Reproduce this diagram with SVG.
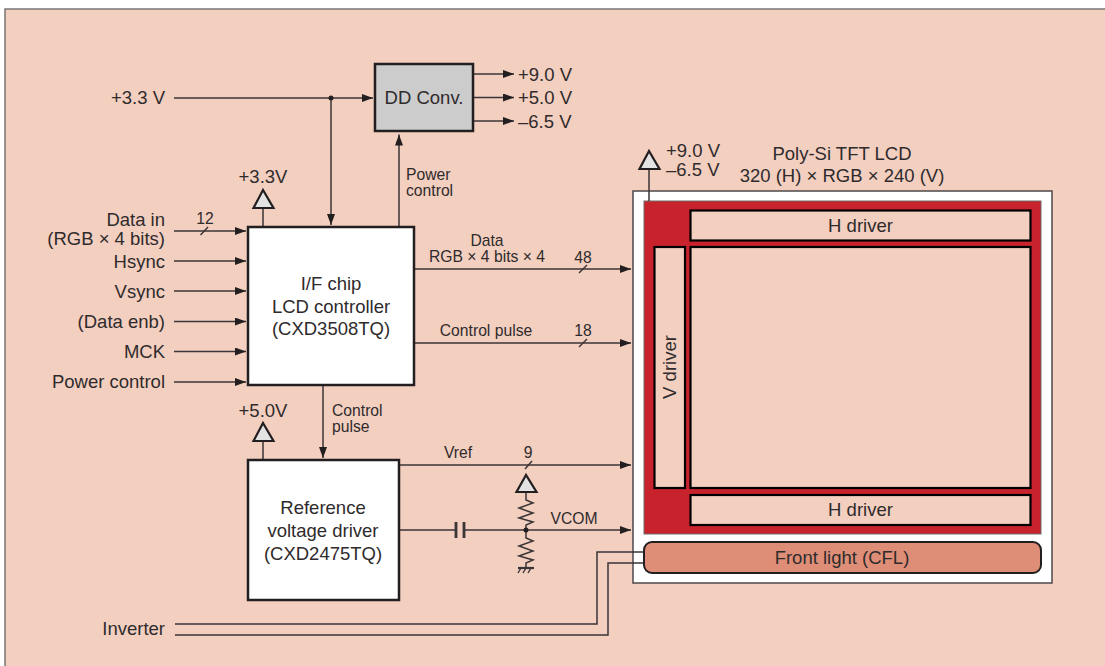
<svg xmlns="http://www.w3.org/2000/svg" width="1105" height="666" viewBox="0 0 1105 666">
<style>
text{font-family:"Liberation Sans",Arial,sans-serif;fill:#2f2b2c;font-size:18.5px}
.s{font-size:15.7px}
.m{text-anchor:middle}
.e{text-anchor:end}
.b{stroke:#231f20;stroke-width:2.5}
.w{fill:#fff}
.l{fill:none;stroke:#3a3536;stroke-width:1.5}
.t{fill:#e3e3e3;stroke:#231f20;stroke-width:2.2}
.a{marker-end:url(#ah)}
.h{fill:#f3cfc0;stroke:#000;stroke-width:2.2}
</style>
<defs>
<marker id="ah" markerUnits="userSpaceOnUse" markerWidth="12" markerHeight="8" refX="11" refY="4" orient="auto"><path d="M0 0L11 4L0 8z" fill="#231f20"/></marker>
</defs>
<rect x="0" y="0" width="1105" height="666" fill="#fff"/>
<rect x="5" y="9" width="1102" height="660" fill="#f3cfc0" stroke="#7a7676" stroke-width="1.5"/>
<g id="lcd-panel">
<rect x="633" y="191" width="419" height="392" fill="#fff" stroke="#4d4849" stroke-width="1.500"/>
<rect x="644" y="201" width="397" height="333" fill="#c8232c" stroke="#6e6a6a" stroke-width="1"/>
<text class="m" x="842" y="160">Poly-Si TFT LCD</text>
<text class="m" x="842" y="182">320 (H) × RGB × 240 (V)</text>
</g>
<g id="connectors">
<path class="l a" d="M174 98H373"/>
<path class="l a" d="M331 98V225"/>
<path class="l a" d="M399 227V134.500"/>
<path class="l a" d="M174 231H246"/><path class="l" d="M200.500 235L208 227"/>
<path class="l a" d="M174 261H246"/>
<path class="l a" d="M174 291H246"/>
<path class="l a" d="M174 321.500H246"/>
<path class="l a" d="M174 351.500H246"/>
<path class="l a" d="M174 382H246"/>
<path class="l a" d="M473 74H514"/>
<path class="l a" d="M473 97.500H514"/>
<path class="l a" d="M473 121H514"/>
<path class="l a" d="M414 269H631"/><path class="l" d="M579 273L587 265"/>
<path class="l a" d="M414 343H631"/><path class="l" d="M579 347L587 339"/>
<path class="l a" d="M323 385V458"/>
<path class="l" d="M263 208V227M263 441V460M649 169V201"/>
<path class="l a" d="M399 465H631"/><path class="l" d="M525 469L532 461"/>
<path class="l" d="M399 530H456M464 530H526"/>
<path class="l a" d="M526 530H631"/>
<path class="l" d="M456 522V538M464 522V538" style="stroke-width:2.800"/>
<path class="l" d="M526 492V500L533 503L519 508L533 513L519 518L533 522L526 525V530V538L533 541L519 546L533 551L519 556L533 560L526 563V568"/>
<path class="l" d="M518 568H534" style="stroke-width:2.200"/>
<path class="l" d="M521 568L518 573M526 568L523 573M531 568L528 573" style="stroke-width:1.400"/>
<circle cx="331" cy="98" r="2.500" fill="#231f20"/>
<circle cx="526" cy="530" r="2.500" fill="#231f20"/>
<path class="l" d="M175 624H597V552H644"/>
<path class="l" d="M175 635H608V563H644"/>
</g>
<g id="h-driver-top"><rect class="h" x="690.500" y="210.500" width="340" height="30"/><text class="m" x="860.500" y="232">H driver</text></g>
<g id="lcd-screen"><rect class="h" x="690.500" y="247" width="340" height="241"/></g>
<g id="v-driver"><rect class="h" x="654.500" y="247" width="30.500" height="241"/><text class="m" transform="translate(676 367) rotate(-90)">V driver</text></g>
<g id="h-driver-bottom"><rect class="h" x="690.500" y="495" width="340" height="30"/><text class="m" x="860.500" y="516">H driver</text></g>
<g id="front-light"><rect x="644" y="542" width="397" height="31" rx="8" fill="#de8e77" stroke="#231f20" stroke-width="2"/><text class="m" x="842" y="564">Front light (CFL)</text></g>
<g id="dd-conv"><rect class="b" x="375" y="64" width="98" height="67" fill="#cccccc"/><text class="m" x="424" y="104">DD Conv.</text></g>
<g id="if-chip"><rect class="b w" x="248" y="227" width="166" height="158"/><text class="m" x="331" y="290">I/F chip</text><text class="m" x="331" y="313">LCD controller</text><text class="m" x="331" y="335">(CXD3508TQ)</text></g>
<g id="ref-driver"><rect class="b w" x="248" y="460" width="151" height="140"/><text class="m" x="323" y="514">Reference</text><text class="m" x="323" y="537">voltage driver</text><text class="m" x="323" y="560">(CXD2475TQ)</text></g>
<g id="supply-3v3"><path class="t" d="M263 190L253.500 208H273.500Z"/><text class="m" x="263" y="183">+3.3V</text></g>
<g id="supply-5v"><path class="t" d="M263 423L253.500 441H273.500Z"/><text class="m" x="263" y="417">+5.0V</text></g>
<g id="supply-lcd"><path class="t" d="M649 151L639.500 169H659.500Z"/><text x="666" y="157">+9.0 V</text><text x="666" y="176">–6.5 V</text></g>
<g id="supply-ref"><path class="t" d="M526 475L516.500 492H536.500Z"/></g>
<g id="labels">
<text class="e" x="165" y="104">+3.3 V</text>
<text class="e" x="165" y="226">Data in</text>
<text class="e" x="165" y="245">(RGB × 4 bits)</text>
<text class="e" x="165" y="268">Hsync</text>
<text class="e" x="165" y="298">Vsync</text>
<text class="e" x="165" y="328">(Data enb)</text>
<text class="e" x="165" y="358">MCK</text>
<text class="e" x="165" y="388">Power control</text>
<text class="e" x="165" y="635">Inverter</text>
<text x="518" y="81">+9.0 V</text>
<text x="518" y="104">+5.0 V</text>
<text x="518" y="128">–6.5 V</text>
<text class="s m" x="205" y="224">12</text>
<text class="s" x="406" y="180">Power</text>
<text class="s" x="406" y="196">control</text>
<text class="s m" x="487" y="246">Data</text>
<text class="s m" x="487" y="262">RGB × 4 bits × 4</text>
<text class="s m" x="583" y="263">48</text>
<text class="s m" x="486" y="336">Control pulse</text>
<text class="s m" x="583" y="336">18</text>
<text class="s" x="332" y="416">Control</text>
<text class="s" x="332" y="432">pulse</text>
<text class="s m" x="458" y="458">Vref</text>
<text class="s m" x="528" y="458">9</text>
<text class="s m" x="574" y="524">VCOM</text>
</g>
</svg>
